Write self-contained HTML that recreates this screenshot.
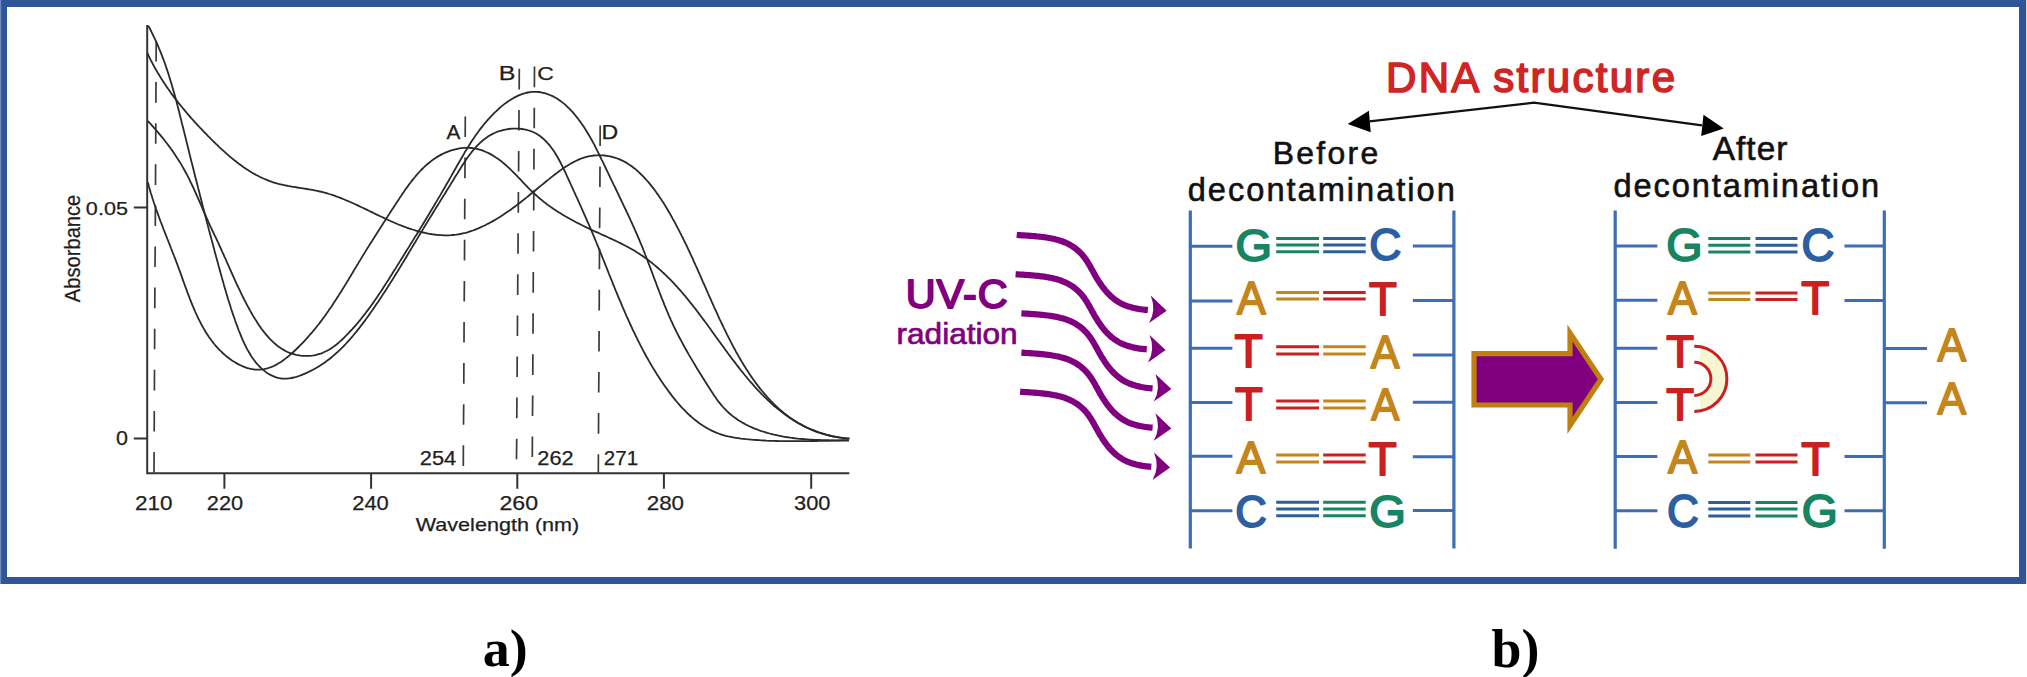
<!DOCTYPE html>
<html><head><meta charset="utf-8"><style>
html,body{margin:0;padding:0;background:#fff;width:2027px;height:677px;overflow:hidden}
svg{display:block}
</style></head><body>
<svg width="2027" height="677" viewBox="0 0 2027 677"><rect x="3.5" y="3.5" width="2019" height="577" fill="#fff" stroke="#2E5597" stroke-width="7"/>
<rect x="2026" y="0" width="1" height="584" fill="#d3dae6"/>
<rect x="0" y="0" width="1.2" height="584" fill="#6F8BBD"/>
<path d="M147.2,25 L147.2,473.3 L849.3,473.3" stroke="#333" stroke-width="2" fill="none"/>
<path d="M133.8,207.6H147 M133.8,438.4H147 M224.4,473H224.4V488.8 M371.1,473V488.8 M517.3,473V488.8 M663.9,473V488.8 M811.2,473V488.8" stroke="#333" stroke-width="2" fill="none"/>
<path d="M156.2,41.0L156.1,61.6M156.0,82.1L155.9,102.7M155.8,123.2L155.7,143.8M155.6,164.3L155.5,184.9M155.4,205.4L155.3,226.0M155.2,246.5L155.0,267.1M154.9,287.6L154.8,308.2M154.7,328.7L154.6,349.3M154.5,369.8L154.4,390.4M154.3,410.9L154.2,431.5M154.1,452.0L154.0,472.6" stroke="#3a3a3a" stroke-width="1.7" fill="none"/>
<path d="M465.3,116.5L465.2,137.1M465.1,157.6L464.9,178.2M464.8,198.7L464.7,219.3M464.6,239.8L464.5,260.4M464.4,280.9L464.2,301.5M464.1,322.0L464.0,342.6M463.9,363.1L463.8,383.7M463.7,404.2L463.5,424.8M463.4,445.3L463.3,465.9" stroke="#3a3a3a" stroke-width="1.7" fill="none"/>
<path d="M519.3,68.8L519.2,89.4M519.0,109.9L518.9,130.5M518.7,151.0L518.6,171.6M518.4,192.1L518.3,212.7M518.1,233.2L518.0,253.8M517.8,274.3L517.7,294.9M517.5,315.4L517.4,336.0M517.2,356.5L517.1,377.1M516.9,397.6L516.8,418.2M516.7,438.7L516.5,459.3" stroke="#3a3a3a" stroke-width="1.7" fill="none"/>
<path d="M534.5,66.6L534.4,87.2M534.3,107.7L534.2,128.3M534.0,148.8L533.9,169.4M533.8,189.9L533.7,210.5M533.6,231.0L533.5,251.6M533.3,272.1L533.2,292.7M533.1,313.2L533.0,333.8M532.9,354.3L532.8,374.9M532.7,395.4L532.5,416.0M532.4,436.5L532.3,457.1" stroke="#3a3a3a" stroke-width="1.7" fill="none"/>
<path d="M600.2,125.4L600.1,146.0M600.0,166.5L599.9,187.1M599.8,207.6L599.6,228.2M599.5,248.7L599.4,269.3M599.3,289.8L599.2,310.4M599.1,330.9L599.0,351.5M598.9,372.0L598.7,392.6M598.6,413.1L598.5,433.7M598.4,454.2L598.3,473.8" stroke="#3a3a3a" stroke-width="1.7" fill="none"/>
<path d="M147.8,182.3 L148.4,184.4 L148.9,186.5 L149.5,188.6 L150.1,190.6 L150.7,192.7 L151.4,194.7 L152.0,196.7 L152.6,198.7 L153.3,200.7 L153.9,202.7 L154.6,204.7 L155.3,206.6 L155.9,208.6 L156.6,210.5 L157.3,212.4 L158.0,214.4 L158.7,216.3 L159.4,218.2 L160.1,220.1 L160.8,222.0 L161.6,223.9 L162.3,225.8 L163.0,227.7 L163.7,229.6 L164.5,231.5 L165.2,233.4 L165.9,235.2 L166.7,237.1 L167.4,239.0 L168.2,240.9 L168.9,242.8 L169.7,244.7 L170.4,246.6 L171.1,248.5 L171.9,250.4 L172.6,252.3 L173.4,254.2 L174.1,256.1 L174.9,258.0 L175.6,259.9 L176.3,261.9 L177.1,263.8 L177.8,265.8 L178.5,267.7 L179.2,269.7 L180.0,271.7 L180.7,273.6 L181.4,275.6 L182.1,277.6 L182.8,279.6 L183.5,281.6 L184.3,283.7 L185.0,285.7 L185.7,287.7 L186.5,289.7 L187.2,291.7 L187.9,293.7 L188.7,295.7 L189.5,297.7 L190.2,299.7 L191.0,301.7 L191.8,303.7 L192.6,305.7 L193.5,307.6 L194.3,309.6 L195.1,311.5 L196.0,313.5 L196.9,315.4 L197.8,317.3 L198.7,319.2 L199.7,321.1 L200.6,322.9 L201.6,324.8 L202.6,326.6 L203.6,328.4 L204.7,330.2 L205.7,332.0 L206.8,333.7 L208.0,335.5 L209.1,337.2 L210.3,338.8 L211.5,340.5 L212.8,342.1 L214.0,343.7 L215.3,345.3 L216.7,346.8 L218.0,348.3 L219.4,349.8 L220.9,351.2 L222.3,352.7 L223.8,354.0 L225.4,355.4 L227.0,356.7 L228.6,358.0 L230.3,359.2 L232.0,360.4 L233.7,361.5 L235.5,362.6 L237.3,363.6 L239.1,364.6 L241.0,365.5 L242.9,366.4 L244.8,367.1 L246.7,367.8 L248.6,368.4 L250.6,368.8 L252.5,369.2 L254.5,369.5 L256.5,369.7 L258.4,369.7 L260.4,369.6 L262.3,369.4 L264.2,369.1 L266.2,368.7 L268.1,368.2 L269.9,367.5 L271.8,366.8 L273.7,366.0 L275.5,365.1 L277.3,364.1 L279.1,363.0 L280.9,361.9 L282.6,360.7 L284.4,359.4 L286.1,358.1 L287.8,356.8 L289.5,355.4 L291.1,353.9 L292.8,352.5 L294.4,351.0 L296.0,349.5 L297.5,348.0 L299.1,346.5 L300.6,344.9 L302.1,343.4 L303.6,341.8 L305.0,340.3 L306.5,338.7 L307.9,337.1 L309.3,335.5 L310.7,333.9 L312.1,332.3 L313.4,330.7 L314.8,329.1 L316.1,327.5 L317.4,325.8 L318.7,324.2 L319.9,322.6 L321.2,320.9 L322.4,319.2 L323.7,317.6 L324.9,315.9 L326.1,314.2 L327.3,312.5 L328.5,310.8 L329.6,309.1 L330.8,307.4 L332.0,305.7 L333.1,304.0 L334.2,302.3 L335.4,300.6 L336.5,298.8 L337.6,297.1 L338.7,295.4 L339.8,293.6 L340.9,291.9 L342.0,290.2 L343.0,288.4 L344.1,286.7 L345.2,284.9 L346.2,283.2 L347.3,281.4 L348.4,279.7 L349.4,277.9 L350.5,276.2 L351.5,274.4 L352.6,272.7 L353.6,270.9 L354.7,269.1 L355.8,267.4 L356.8,265.6 L357.9,263.9 L358.9,262.1 L360.0,260.4 L361.1,258.6 L362.1,256.9 L363.2,255.1 L364.3,253.4 L365.4,251.6 L366.4,249.9 L367.5,248.1 L368.6,246.4 L369.7,244.6 L370.8,242.9 L371.9,241.2 L373.0,239.4 L374.1,237.7 L375.2,235.9 L376.3,234.2 L377.4,232.4 L378.5,230.7 L379.6,228.9 L380.8,227.2 L381.9,225.4 L383.0,223.7 L384.1,221.9 L385.3,220.2 L386.4,218.4 L387.5,216.6 L388.7,214.9 L389.8,213.1 L391.0,211.3 L392.1,209.6 L393.3,207.8 L394.4,206.0 L395.6,204.3 L396.7,202.5 L397.9,200.7 L399.1,198.9 L400.2,197.1 L401.4,195.4 L402.6,193.6 L403.8,191.9 L405.0,190.1 L406.2,188.4 L407.5,186.6 L408.7,184.9 L410.0,183.2 L411.3,181.6 L412.6,179.9 L413.9,178.3 L415.2,176.7 L416.5,175.1 L417.9,173.5 L419.3,172.0 L420.7,170.5 L422.2,169.0 L423.6,167.6 L425.1,166.2 L426.6,164.8 L428.2,163.5 L429.8,162.2 L431.4,160.9 L433.0,159.7 L434.7,158.6 L436.4,157.4 L438.1,156.4 L439.9,155.4 L441.7,154.4 L443.5,153.5 L445.4,152.6 L447.3,151.8 L449.3,151.1 L451.3,150.4 L453.3,149.8 L455.3,149.3 L457.4,148.8 L459.4,148.4 L461.5,148.1 L463.5,147.9 L465.6,147.8 L467.6,147.8 L469.7,147.8 L471.7,148.0 L473.7,148.3 L475.7,148.6 L477.7,149.1 L479.6,149.6 L481.5,150.2 L483.5,150.9 L485.3,151.7 L487.2,152.5 L489.1,153.4 L490.9,154.4 L492.7,155.4 L494.5,156.5 L496.2,157.7 L497.9,158.8 L499.6,160.1 L501.3,161.3 L502.9,162.6 L504.5,164.0 L506.1,165.4 L507.7,166.8 L509.2,168.2 L510.7,169.7 L512.2,171.1 L513.7,172.6 L515.2,174.1 L516.7,175.6 L518.1,177.2 L519.6,178.7 L521.1,180.2 L522.5,181.8 L524.0,183.3 L525.4,184.8 L526.9,186.3 L528.3,187.8 L529.8,189.3 L531.3,190.8 L532.8,192.2 L534.3,193.7 L535.8,195.0 L537.4,196.4 L538.9,197.8 L540.5,199.1 L542.1,200.4 L543.7,201.7 L545.3,202.9 L546.9,204.2 L548.6,205.4 L550.2,206.6 L551.9,207.7 L553.6,208.9 L555.3,210.0 L557.0,211.2 L558.7,212.3 L560.5,213.3 L562.2,214.4 L564.0,215.5 L565.7,216.5 L567.5,217.5 L569.3,218.5 L571.1,219.5 L572.9,220.5 L574.7,221.5 L576.5,222.5 L578.4,223.4 L580.2,224.3 L582.1,225.3 L584.0,226.2 L585.8,227.1 L587.7,228.0 L589.6,228.9 L591.5,229.8 L593.4,230.7 L595.3,231.6 L597.3,232.4 L599.2,233.3 L601.1,234.2 L603.1,235.1 L605.0,235.9 L606.9,236.8 L608.8,237.7 L610.8,238.6 L612.7,239.5 L614.6,240.4 L616.5,241.3 L618.4,242.2 L620.3,243.1 L622.2,244.1 L624.1,245.0 L625.9,246.0 L627.8,247.0 L629.6,248.0 L631.4,249.0 L633.2,250.0 L635.0,251.1 L636.7,252.2 L638.5,253.3 L640.2,254.4 L641.9,255.5 L643.6,256.7 L645.3,257.9 L646.9,259.1 L648.5,260.3 L650.2,261.6 L651.8,262.8 L653.3,264.1 L654.9,265.4 L656.5,266.7 L658.0,268.0 L659.5,269.4 L661.1,270.7 L662.5,272.1 L664.0,273.5 L665.5,274.9 L667.0,276.3 L668.4,277.8 L669.9,279.2 L671.3,280.7 L672.7,282.1 L674.1,283.6 L675.5,285.1 L676.9,286.6 L678.2,288.2 L679.6,289.7 L681.0,291.2 L682.3,292.8 L683.6,294.4 L685.0,295.9 L686.3,297.5 L687.6,299.1 L688.9,300.7 L690.2,302.4 L691.5,304.0 L692.8,305.6 L694.1,307.2 L695.4,308.9 L696.6,310.5 L697.9,312.2 L699.2,313.9 L700.4,315.5 L701.7,317.2 L702.9,318.9 L704.2,320.6 L705.4,322.3 L706.7,323.9 L707.9,325.6 L709.1,327.3 L710.4,329.0 L711.6,330.7 L712.8,332.5 L714.1,334.2 L715.3,335.9 L716.5,337.6 L717.8,339.3 L719.0,341.0 L720.3,342.7 L721.5,344.4 L722.7,346.1 L724.0,347.8 L725.2,349.6 L726.5,351.3 L727.7,353.0 L729.0,354.7 L730.3,356.4 L731.5,358.1 L732.8,359.7 L734.1,361.4 L735.4,363.1 L736.6,364.8 L737.9,366.4 L739.2,368.1 L740.5,369.8 L741.8,371.4 L743.2,373.0 L744.5,374.7 L745.8,376.3 L747.1,377.9 L748.5,379.5 L749.8,381.1 L751.2,382.7 L752.6,384.2 L754.0,385.8 L755.3,387.3 L756.7,388.8 L758.1,390.4 L759.6,391.9 L761.0,393.3 L762.4,394.8 L763.9,396.3 L765.3,397.7 L766.8,399.1 L768.3,400.5 L769.8,401.9 L771.3,403.3 L772.8,404.7 L774.3,406.0 L775.9,407.3 L777.4,408.6 L779.0,409.9 L780.6,411.1 L782.2,412.4 L783.8,413.6 L785.4,414.8 L787.1,415.9 L788.8,417.1 L790.4,418.2 L792.1,419.3 L793.8,420.4 L795.6,421.4 L797.3,422.5 L799.0,423.5 L800.8,424.4 L802.6,425.4 L804.4,426.3 L806.3,427.2 L808.1,428.0 L810.0,428.9 L811.8,429.7 L813.8,430.4 L815.7,431.2 L817.6,431.9 L819.6,432.6 L821.6,433.2 L823.6,433.8 L825.6,434.4 L827.6,435.0 L829.7,435.5 L831.8,436.0 L833.9,436.4 L836.0,436.8 L838.2,437.2 L840.4,437.6 L842.6,437.9 L844.8,438.1 L847.0,438.4 L849.3,438.6" stroke="#2a2a2a" stroke-width="1.8" fill="none" stroke-linejoin="round"/>
<path d="M148.2,25.6 L149.4,27.8 L150.6,30.0 L151.7,32.3 L152.8,34.6 L153.9,36.8 L155.0,39.1 L156.0,41.4 L157.1,43.7 L158.1,46.0 L159.0,48.3 L160.0,50.6 L160.9,52.9 L161.8,55.3 L162.7,57.6 L163.6,59.9 L164.5,62.3 L165.3,64.6 L166.1,67.0 L166.9,69.4 L167.7,71.7 L168.5,74.1 L169.2,76.5 L170.0,78.9 L170.7,81.2 L171.4,83.6 L172.1,86.0 L172.8,88.4 L173.5,90.8 L174.2,93.3 L174.9,95.7 L175.5,98.1 L176.2,100.5 L176.8,102.9 L177.4,105.3 L178.1,107.8 L178.7,110.2 L179.3,112.6 L179.9,115.1 L180.5,117.5 L181.1,119.9 L181.7,122.4 L182.3,124.8 L183.0,127.3 L183.6,129.7 L184.2,132.1 L184.8,134.6 L185.4,137.0 L186.0,139.5 L186.6,141.9 L187.2,144.4 L187.8,146.8 L188.4,149.3 L189.0,151.7 L189.6,154.1 L190.2,156.6 L190.8,159.0 L191.4,161.5 L192.1,163.9 L192.7,166.4 L193.3,168.8 L193.9,171.3 L194.5,173.7 L195.1,176.2 L195.7,178.6 L196.4,181.0 L197.0,183.5 L197.6,185.9 L198.2,188.4 L198.9,190.8 L199.5,193.3 L200.1,195.7 L200.7,198.1 L201.4,200.6 L202.0,203.0 L202.6,205.4 L203.2,207.9 L203.9,210.3 L204.5,212.7 L205.1,215.2 L205.8,217.6 L206.4,220.0 L207.0,222.5 L207.7,224.9 L208.3,227.3 L208.9,229.7 L209.6,232.2 L210.2,234.6 L210.9,237.0 L211.5,239.4 L212.2,241.8 L212.8,244.2 L213.4,246.6 L214.1,249.1 L214.7,251.5 L215.4,253.9 L216.0,256.3 L216.7,258.7 L217.3,261.1 L218.0,263.5 L218.6,265.9 L219.3,268.2 L219.9,270.6 L220.6,273.0 L221.3,275.4 L221.9,277.8 L222.6,280.2 L223.3,282.5 L223.9,284.9 L224.6,287.3 L225.3,289.7 L226.0,292.0 L226.7,294.4 L227.4,296.8 L228.1,299.2 L228.9,301.6 L229.6,303.9 L230.4,306.3 L231.1,308.7 L231.9,311.1 L232.7,313.5 L233.5,315.9 L234.4,318.3 L235.2,320.7 L236.1,323.2 L237.0,325.6 L237.9,328.0 L238.8,330.5 L239.8,332.9 L240.8,335.3 L241.8,337.8 L242.8,340.2 L243.9,342.6 L245.0,344.9 L246.2,347.3 L247.4,349.6 L248.7,351.8 L250.0,354.0 L251.3,356.2 L252.7,358.3 L254.2,360.3 L255.7,362.3 L257.3,364.2 L259.0,366.0 L260.7,367.7 L262.5,369.4 L264.4,370.9 L266.3,372.4 L268.3,373.7 L270.4,374.9 L272.6,375.9 L274.8,376.8 L277.0,377.6 L279.3,378.1 L281.7,378.5 L284.1,378.7 L286.5,378.7 L289.0,378.4 L291.4,378.0 L293.9,377.5 L296.4,376.8 L298.9,376.0 L301.3,375.1 L303.7,374.1 L306.1,373.1 L308.4,372.0 L310.7,370.9 L313.0,369.7 L315.2,368.5 L317.4,367.3 L319.5,365.9 L321.6,364.6 L323.7,363.2 L325.7,361.7 L327.7,360.3 L329.7,358.7 L331.6,357.2 L333.5,355.6 L335.4,353.9 L337.3,352.3 L339.1,350.6 L340.9,348.8 L342.7,347.1 L344.4,345.3 L346.1,343.5 L347.8,341.6 L349.5,339.8 L351.2,337.9 L352.8,336.0 L354.4,334.0 L356.0,332.1 L357.6,330.1 L359.2,328.1 L360.7,326.1 L362.3,324.1 L363.8,322.1 L365.3,320.1 L366.8,318.0 L368.3,316.0 L369.7,313.9 L371.2,311.8 L372.7,309.8 L374.1,307.7 L375.5,305.6 L376.9,303.5 L378.4,301.4 L379.8,299.3 L381.2,297.2 L382.5,295.1 L383.9,293.0 L385.3,290.9 L386.7,288.7 L388.0,286.6 L389.4,284.5 L390.7,282.4 L392.1,280.2 L393.4,278.1 L394.7,276.0 L396.0,273.8 L397.4,271.7 L398.7,269.5 L400.0,267.4 L401.3,265.3 L402.6,263.1 L403.9,261.0 L405.2,258.8 L406.5,256.7 L407.8,254.5 L409.0,252.4 L410.3,250.2 L411.6,248.1 L412.9,246.0 L414.2,243.8 L415.5,241.7 L416.7,239.6 L418.0,237.4 L419.3,235.3 L420.6,233.2 L421.9,231.0 L423.2,228.9 L424.4,226.8 L425.7,224.7 L427.0,222.6 L428.3,220.5 L429.6,218.4 L430.9,216.3 L432.2,214.2 L433.5,212.0 L434.8,209.9 L436.1,207.8 L437.4,205.7 L438.7,203.6 L440.0,201.5 L441.3,199.4 L442.6,197.2 L444.0,195.1 L445.3,193.0 L446.6,190.8 L447.9,188.7 L449.3,186.5 L450.6,184.4 L451.9,182.2 L453.3,180.0 L454.6,177.8 L456.0,175.6 L457.4,173.4 L458.7,171.2 L460.1,169.0 L461.5,166.8 L462.9,164.6 L464.3,162.4 L465.7,160.3 L467.2,158.1 L468.7,156.0 L470.2,154.0 L471.8,151.9 L473.4,150.0 L475.1,148.0 L476.7,146.2 L478.5,144.4 L480.3,142.7 L482.1,141.0 L484.0,139.4 L486.0,138.0 L488.0,136.6 L490.1,135.3 L492.2,134.1 L494.5,133.0 L496.8,132.0 L499.2,131.2 L501.6,130.5 L504.1,129.9 L506.6,129.4 L509.1,129.0 L511.7,128.7 L514.2,128.6 L516.7,128.6 L519.3,128.7 L521.8,129.0 L524.2,129.4 L526.6,129.9 L529.0,130.5 L531.3,131.3 L533.5,132.3 L535.6,133.3 L537.6,134.5 L539.6,135.8 L541.5,137.2 L543.3,138.7 L545.0,140.3 L546.7,142.0 L548.3,143.8 L549.9,145.7 L551.4,147.7 L552.9,149.7 L554.3,151.8 L555.7,154.0 L557.0,156.2 L558.3,158.5 L559.5,160.7 L560.8,163.1 L561.9,165.4 L563.1,167.8 L564.3,170.2 L565.4,172.6 L566.5,175.0 L567.6,177.4 L568.7,179.8 L569.8,182.2 L570.8,184.5 L571.9,186.9 L573.0,189.2 L574.0,191.5 L575.1,193.9 L576.1,196.2 L577.2,198.4 L578.2,200.7 L579.3,203.0 L580.3,205.3 L581.3,207.5 L582.3,209.8 L583.3,212.1 L584.3,214.3 L585.3,216.6 L586.3,218.8 L587.3,221.1 L588.3,223.3 L589.3,225.6 L590.2,227.8 L591.2,230.1 L592.2,232.4 L593.1,234.7 L594.1,236.9 L595.0,239.2 L596.0,241.5 L596.9,243.8 L597.9,246.1 L598.8,248.4 L599.7,250.7 L600.7,253.0 L601.6,255.4 L602.5,257.7 L603.5,260.0 L604.4,262.3 L605.3,264.6 L606.3,267.0 L607.2,269.3 L608.1,271.6 L609.0,274.0 L610.0,276.3 L610.9,278.6 L611.9,281.0 L612.8,283.3 L613.7,285.6 L614.7,288.0 L615.6,290.3 L616.6,292.6 L617.5,294.9 L618.5,297.3 L619.5,299.6 L620.5,301.9 L621.4,304.2 L622.4,306.6 L623.4,308.9 L624.4,311.2 L625.4,313.5 L626.4,315.8 L627.5,318.1 L628.5,320.4 L629.5,322.7 L630.6,325.0 L631.7,327.3 L632.7,329.6 L633.8,331.9 L634.9,334.1 L636.0,336.4 L637.1,338.7 L638.2,340.9 L639.4,343.2 L640.5,345.4 L641.7,347.6 L642.8,349.9 L644.0,352.1 L645.2,354.3 L646.4,356.5 L647.7,358.7 L648.9,360.9 L650.2,363.1 L651.4,365.3 L652.7,367.4 L654.0,369.6 L655.4,371.7 L656.7,373.9 L658.1,376.0 L659.4,378.1 L660.8,380.2 L662.2,382.3 L663.7,384.4 L665.1,386.4 L666.6,388.5 L668.1,390.6 L669.6,392.6 L671.1,394.6 L672.6,396.6 L674.2,398.6 L675.8,400.6 L677.4,402.5 L679.1,404.4 L680.7,406.3 L682.4,408.1 L684.2,409.9 L685.9,411.7 L687.7,413.5 L689.5,415.2 L691.4,416.8 L693.2,418.4 L695.1,420.0 L697.1,421.5 L699.0,423.0 L701.1,424.4 L703.1,425.8 L705.2,427.1 L707.3,428.3 L709.5,429.5 L711.7,430.6 L713.9,431.6 L716.2,432.6 L718.5,433.5 L720.8,434.3 L723.2,435.1 L725.7,435.8 L728.2,436.4 L730.7,436.9 L733.2,437.4 L735.8,437.8 L738.4,438.2 L740.9,438.6 L743.5,438.9 L746.1,439.2 L748.7,439.4 L751.3,439.6 L753.8,439.9 L756.4,440.0 L758.9,440.2 L761.4,440.4 L764.0,440.5 L766.5,440.7 L769.0,440.8 L771.5,440.9 L774.0,440.9 L776.5,441.0 L779.0,441.1 L781.5,441.1 L784.0,441.2 L786.4,441.2 L788.9,441.2 L791.4,441.2 L793.9,441.2 L796.3,441.2 L798.8,441.2 L801.3,441.2 L803.8,441.1 L806.2,441.1 L808.7,441.1 L811.2,441.0 L813.7,441.0 L816.2,441.0 L818.6,440.9 L821.1,440.9 L823.6,440.8 L826.1,440.8 L828.6,440.8 L831.1,440.7 L833.7,440.7 L836.2,440.7 L838.7,440.6 L841.3,440.6 L843.8,440.6 L846.4,440.6 L848.9,440.6" stroke="#2a2a2a" stroke-width="1.8" fill="none" stroke-linejoin="round"/>
<path d="M147.9,121.0 L149.4,122.7 L151.0,124.3 L152.5,126.1 L154.1,127.8 L155.6,129.5 L157.1,131.3 L158.6,133.1 L160.1,134.9 L161.6,136.7 L163.1,138.5 L164.5,140.3 L166.0,142.2 L167.4,144.0 L168.8,145.9 L170.2,147.8 L171.6,149.7 L172.9,151.6 L174.2,153.6 L175.5,155.5 L176.8,157.5 L178.1,159.4 L179.4,161.4 L180.6,163.4 L181.8,165.4 L182.9,167.4 L184.1,169.5 L185.2,171.5 L186.3,173.5 L187.4,175.6 L188.5,177.6 L189.5,179.7 L190.5,181.8 L191.5,183.9 L192.5,186.0 L193.5,188.0 L194.4,190.1 L195.4,192.3 L196.3,194.4 L197.3,196.5 L198.2,198.6 L199.1,200.7 L200.1,202.9 L201.0,205.0 L201.9,207.2 L202.8,209.3 L203.8,211.4 L204.7,213.6 L205.7,215.7 L206.6,217.9 L207.6,220.0 L208.5,222.2 L209.5,224.3 L210.5,226.5 L211.5,228.6 L212.5,230.8 L213.5,232.9 L214.5,235.1 L215.6,237.2 L216.6,239.3 L217.6,241.5 L218.6,243.6 L219.5,245.7 L220.5,247.9 L221.5,250.0 L222.4,252.1 L223.4,254.2 L224.3,256.3 L225.3,258.4 L226.2,260.5 L227.1,262.6 L228.0,264.7 L229.0,266.7 L229.9,268.8 L230.8,270.9 L231.7,273.0 L232.7,275.1 L233.6,277.2 L234.5,279.2 L235.5,281.3 L236.4,283.4 L237.4,285.5 L238.4,287.6 L239.4,289.6 L240.4,291.7 L241.4,293.8 L242.4,295.9 L243.4,298.0 L244.5,300.1 L245.6,302.2 L246.7,304.3 L247.8,306.4 L249.0,308.5 L250.1,310.6 L251.3,312.7 L252.5,314.9 L253.8,317.0 L255.1,319.1 L256.4,321.1 L257.7,323.2 L259.0,325.2 L260.4,327.2 L261.8,329.2 L263.3,331.1 L264.8,333.0 L266.3,334.9 L267.9,336.7 L269.4,338.4 L271.1,340.1 L272.7,341.7 L274.4,343.3 L276.2,344.8 L278.0,346.2 L279.8,347.5 L281.7,348.8 L283.6,349.9 L285.5,351.0 L287.5,352.0 L289.6,352.8 L291.7,353.6 L293.8,354.2 L296.0,354.8 L298.2,355.2 L300.4,355.6 L302.7,355.8 L304.9,355.9 L307.2,355.9 L309.5,355.8 L311.8,355.6 L314.0,355.3 L316.3,354.8 L318.5,354.2 L320.7,353.6 L322.8,352.8 L324.9,351.8 L327.0,350.8 L329.0,349.7 L331.0,348.4 L333.0,347.1 L334.9,345.7 L336.8,344.2 L338.6,342.7 L340.4,341.1 L342.2,339.5 L343.9,337.8 L345.6,336.1 L347.3,334.4 L349.0,332.6 L350.6,330.9 L352.3,329.1 L353.8,327.4 L355.4,325.6 L357.0,323.8 L358.5,322.0 L360.0,320.2 L361.5,318.3 L362.9,316.5 L364.4,314.6 L365.8,312.8 L367.2,310.9 L368.6,309.1 L370.0,307.2 L371.4,305.3 L372.7,303.4 L374.1,301.5 L375.4,299.6 L376.7,297.7 L378.0,295.7 L379.3,293.8 L380.6,291.9 L381.9,289.9 L383.1,288.0 L384.4,286.0 L385.7,284.1 L386.9,282.1 L388.2,280.2 L389.4,278.2 L390.6,276.2 L391.9,274.3 L393.1,272.3 L394.3,270.3 L395.6,268.4 L396.8,266.4 L398.0,264.4 L399.3,262.4 L400.5,260.4 L401.7,258.5 L403.0,256.5 L404.2,254.5 L405.4,252.5 L406.6,250.5 L407.9,248.6 L409.1,246.6 L410.3,244.6 L411.6,242.6 L412.8,240.6 L414.0,238.6 L415.2,236.6 L416.5,234.7 L417.7,232.7 L418.9,230.7 L420.1,228.7 L421.3,226.7 L422.6,224.7 L423.8,222.7 L425.0,220.7 L426.2,218.7 L427.4,216.7 L428.6,214.7 L429.8,212.7 L431.0,210.7 L432.2,208.7 L433.4,206.7 L434.6,204.7 L435.8,202.6 L437.0,200.6 L438.2,198.6 L439.4,196.6 L440.6,194.6 L441.7,192.6 L442.9,190.6 L444.1,188.5 L445.3,186.5 L446.4,184.5 L447.6,182.5 L448.8,180.5 L449.9,178.4 L451.1,176.4 L452.2,174.4 L453.4,172.3 L454.5,170.3 L455.7,168.3 L456.8,166.3 L457.9,164.2 L459.1,162.2 L460.3,160.2 L461.4,158.2 L462.6,156.2 L463.8,154.1 L464.9,152.1 L466.1,150.2 L467.3,148.2 L468.6,146.2 L469.8,144.2 L471.0,142.3 L472.3,140.3 L473.6,138.4 L474.9,136.5 L476.2,134.5 L477.6,132.7 L479.0,130.8 L480.4,128.9 L481.8,127.1 L483.3,125.2 L484.7,123.4 L486.3,121.6 L487.8,119.8 L489.4,118.1 L491.0,116.3 L492.7,114.6 L494.3,112.9 L496.1,111.3 L497.8,109.6 L499.6,108.0 L501.5,106.4 L503.3,104.9 L505.2,103.4 L507.2,102.0 L509.1,100.7 L511.1,99.4 L513.1,98.2 L515.2,97.1 L517.2,96.1 L519.3,95.2 L521.4,94.3 L523.5,93.6 L525.7,93.0 L527.8,92.5 L530.0,92.1 L532.2,91.9 L534.4,91.8 L536.6,91.8 L538.8,92.0 L541.0,92.4 L543.2,92.8 L545.5,93.4 L547.6,94.1 L549.8,95.0 L552.0,95.9 L554.1,96.9 L556.1,98.1 L558.1,99.3 L560.1,100.7 L562.0,102.1 L563.9,103.6 L565.7,105.1 L567.4,106.8 L569.1,108.4 L570.8,110.2 L572.4,111.9 L573.9,113.7 L575.4,115.5 L576.9,117.3 L578.4,119.2 L579.8,121.1 L581.1,123.0 L582.5,124.9 L583.8,126.8 L585.0,128.8 L586.3,130.7 L587.5,132.7 L588.7,134.7 L589.9,136.7 L591.0,138.8 L592.2,140.8 L593.3,142.9 L594.4,144.9 L595.4,147.0 L596.5,149.1 L597.5,151.2 L598.6,153.3 L599.6,155.4 L600.6,157.5 L601.6,159.6 L602.7,161.7 L603.7,163.8 L604.7,165.9 L605.7,168.0 L606.7,170.1 L607.7,172.2 L608.7,174.3 L609.7,176.4 L610.7,178.6 L611.7,180.7 L612.7,182.7 L613.7,184.8 L614.8,186.9 L615.8,189.0 L616.8,191.1 L617.8,193.2 L618.8,195.3 L619.8,197.4 L620.8,199.5 L621.8,201.6 L622.8,203.7 L623.8,205.8 L624.8,207.9 L625.8,210.0 L626.8,212.1 L627.8,214.2 L628.8,216.3 L629.8,218.4 L630.7,220.5 L631.7,222.7 L632.7,224.8 L633.6,226.9 L634.6,229.0 L635.5,231.1 L636.5,233.3 L637.4,235.4 L638.3,237.6 L639.2,239.7 L640.1,241.8 L641.0,244.0 L641.9,246.2 L642.8,248.3 L643.6,250.5 L644.5,252.7 L645.3,254.8 L646.2,257.0 L647.0,259.2 L647.9,261.4 L648.7,263.6 L649.5,265.7 L650.3,267.9 L651.2,270.1 L652.0,272.3 L652.8,274.5 L653.6,276.7 L654.4,278.9 L655.3,281.1 L656.1,283.3 L656.9,285.5 L657.7,287.7 L658.6,289.8 L659.4,292.0 L660.2,294.2 L661.1,296.4 L661.9,298.6 L662.8,300.7 L663.7,302.9 L664.5,305.1 L665.4,307.2 L666.3,309.4 L667.2,311.5 L668.1,313.7 L669.0,315.8 L670.0,317.9 L670.9,320.1 L671.9,322.2 L672.9,324.3 L673.8,326.4 L674.9,328.5 L675.9,330.6 L676.9,332.6 L678.0,334.7 L679.0,336.8 L680.1,338.8 L681.2,340.9 L682.3,342.9 L683.4,345.0 L684.5,347.0 L685.7,349.0 L686.8,351.0 L688.0,353.1 L689.1,355.1 L690.3,357.1 L691.5,359.1 L692.7,361.1 L693.9,363.1 L695.1,365.2 L696.3,367.2 L697.5,369.2 L698.8,371.2 L700.0,373.2 L701.3,375.2 L702.5,377.2 L703.8,379.2 L705.0,381.3 L706.3,383.3 L707.5,385.3 L708.8,387.3 L710.1,389.3 L711.4,391.3 L712.7,393.3 L714.0,395.3 L715.4,397.3 L716.7,399.2 L718.1,401.1 L719.6,402.9 L721.0,404.7 L722.5,406.5 L724.1,408.2 L725.7,409.8 L727.3,411.4 L729.0,413.0 L730.7,414.5 L732.4,415.9 L734.2,417.3 L736.1,418.6 L737.9,419.9 L739.8,421.1 L741.8,422.3 L743.8,423.4 L745.8,424.5 L747.8,425.5 L749.8,426.5 L751.9,427.4 L754.1,428.3 L756.2,429.2 L758.4,430.0 L760.5,430.8 L762.8,431.5 L765.0,432.2 L767.2,432.9 L769.5,433.5 L771.8,434.1 L774.1,434.7 L776.4,435.2 L778.7,435.7 L781.1,436.1 L783.4,436.6 L785.8,437.0 L788.2,437.3 L790.5,437.7 L792.9,438.0 L795.3,438.3 L797.7,438.6 L800.1,438.8 L802.5,439.0 L804.9,439.2 L807.3,439.4 L809.6,439.6 L812.0,439.7 L814.4,439.8 L816.8,439.9 L819.1,440.0 L821.5,440.1 L823.8,440.1 L826.2,440.2 L828.5,440.2 L830.8,440.3 L833.1,440.3 L835.4,440.3 L837.7,440.3 L839.9,440.3 L842.1,440.2 L844.3,440.2 L846.5,440.2 L848.7,440.2" stroke="#2a2a2a" stroke-width="1.8" fill="none" stroke-linejoin="round"/>
<path d="M147.2,52.8 L148.0,54.5 L148.8,56.2 L149.7,57.9 L150.5,59.6 L151.4,61.2 L152.2,62.9 L153.1,64.5 L154.0,66.2 L154.9,67.8 L155.8,69.5 L156.8,71.1 L157.7,72.7 L158.7,74.3 L159.7,75.9 L160.6,77.5 L161.6,79.1 L162.7,80.7 L163.7,82.3 L164.7,83.8 L165.8,85.4 L166.8,86.9 L167.9,88.5 L169.0,90.0 L170.0,91.5 L171.1,93.1 L172.2,94.6 L173.4,96.1 L174.5,97.6 L175.6,99.1 L176.8,100.6 L177.9,102.1 L179.1,103.6 L180.3,105.0 L181.5,106.5 L182.7,108.0 L183.9,109.4 L185.1,110.9 L186.3,112.3 L187.5,113.8 L188.7,115.2 L190.0,116.6 L191.2,118.1 L192.5,119.5 L193.8,120.9 L195.0,122.3 L196.3,123.7 L197.6,125.1 L198.9,126.5 L200.2,127.9 L201.5,129.2 L202.8,130.6 L204.1,132.0 L205.5,133.4 L206.8,134.7 L208.1,136.1 L209.5,137.4 L210.8,138.8 L212.2,140.1 L213.5,141.5 L214.9,142.8 L216.2,144.1 L217.6,145.4 L219.0,146.8 L220.4,148.1 L221.8,149.4 L223.2,150.6 L224.6,151.9 L226.0,153.2 L227.4,154.4 L228.8,155.7 L230.3,156.9 L231.7,158.1 L233.2,159.3 L234.6,160.5 L236.1,161.6 L237.6,162.8 L239.1,163.9 L240.6,165.0 L242.1,166.1 L243.6,167.2 L245.2,168.3 L246.7,169.3 L248.3,170.3 L249.8,171.3 L251.4,172.2 L253.0,173.2 L254.6,174.1 L256.2,175.0 L257.9,175.8 L259.5,176.7 L261.2,177.5 L262.9,178.3 L264.5,179.0 L266.2,179.7 L268.0,180.4 L269.7,181.1 L271.4,181.7 L273.2,182.3 L275.0,182.8 L276.8,183.4 L278.6,183.9 L280.4,184.3 L282.2,184.7 L284.1,185.2 L285.9,185.5 L287.8,185.9 L289.7,186.2 L291.6,186.6 L293.5,186.9 L295.4,187.2 L297.3,187.5 L299.2,187.8 L301.1,188.1 L303.0,188.4 L304.9,188.7 L306.8,189.0 L308.7,189.3 L310.6,189.6 L312.5,189.9 L314.4,190.3 L316.2,190.7 L318.1,191.1 L320.0,191.5 L321.8,191.9 L323.6,192.4 L325.5,192.9 L327.3,193.4 L329.1,194.0 L330.9,194.5 L332.7,195.1 L334.5,195.7 L336.2,196.4 L338.0,197.0 L339.7,197.7 L341.5,198.3 L343.2,199.0 L345.0,199.8 L346.7,200.5 L348.4,201.2 L350.2,202.0 L351.9,202.7 L353.6,203.5 L355.3,204.3 L357.0,205.1 L358.7,205.9 L360.4,206.7 L362.1,207.5 L363.8,208.3 L365.5,209.1 L367.2,209.9 L368.9,210.8 L370.6,211.6 L372.3,212.4 L374.0,213.2 L375.7,214.1 L377.4,214.9 L379.1,215.7 L380.8,216.5 L382.5,217.3 L384.2,218.1 L385.9,218.9 L387.6,219.7 L389.4,220.5 L391.1,221.3 L392.8,222.0 L394.6,222.8 L396.3,223.5 L398.0,224.3 L399.8,225.0 L401.6,225.7 L403.3,226.3 L405.1,227.0 L406.9,227.7 L408.7,228.3 L410.5,228.9 L412.3,229.5 L414.1,230.0 L415.9,230.6 L417.7,231.1 L419.5,231.6 L421.4,232.1 L423.2,232.5 L425.0,232.9 L426.9,233.3 L428.7,233.7 L430.6,234.0 L432.4,234.3 L434.3,234.5 L436.1,234.8 L438.0,234.9 L439.8,235.1 L441.7,235.2 L443.5,235.3 L445.4,235.3 L447.2,235.3 L449.1,235.3 L450.9,235.2 L452.8,235.0 L454.6,234.8 L456.5,234.6 L458.3,234.3 L460.2,234.0 L462.0,233.6 L463.8,233.2 L465.7,232.8 L467.5,232.3 L469.3,231.7 L471.1,231.1 L472.9,230.5 L474.7,229.8 L476.5,229.1 L478.2,228.4 L480.0,227.6 L481.8,226.8 L483.5,226.0 L485.2,225.2 L486.9,224.3 L488.7,223.4 L490.3,222.5 L492.0,221.6 L493.7,220.6 L495.3,219.7 L496.9,218.7 L498.6,217.7 L500.2,216.7 L501.7,215.7 L503.3,214.7 L504.9,213.6 L506.4,212.6 L508.0,211.5 L509.5,210.5 L511.0,209.4 L512.5,208.3 L514.0,207.2 L515.5,206.1 L517.0,204.9 L518.5,203.8 L520.0,202.7 L521.4,201.5 L522.9,200.4 L524.4,199.2 L525.8,198.1 L527.3,196.9 L528.7,195.7 L530.2,194.5 L531.7,193.3 L533.1,192.1 L534.6,191.0 L536.0,189.8 L537.5,188.5 L538.9,187.3 L540.4,186.1 L541.9,184.9 L543.4,183.7 L544.8,182.5 L546.3,181.3 L547.8,180.1 L549.3,178.9 L550.8,177.6 L552.4,176.4 L553.9,175.2 L555.4,174.0 L557.0,172.9 L558.5,171.7 L560.1,170.6 L561.7,169.4 L563.2,168.3 L564.8,167.3 L566.4,166.2 L568.1,165.2 L569.7,164.2 L571.3,163.3 L573.0,162.4 L574.6,161.5 L576.3,160.7 L578.0,159.9 L579.7,159.2 L581.4,158.5 L583.1,157.9 L584.8,157.4 L586.6,156.9 L588.4,156.4 L590.1,156.1 L591.9,155.8 L593.7,155.5 L595.5,155.4 L597.4,155.3 L599.2,155.2 L601.0,155.3 L602.8,155.4 L604.7,155.5 L606.5,155.8 L608.3,156.1 L610.1,156.4 L611.9,156.8 L613.7,157.3 L615.5,157.9 L617.3,158.5 L619.0,159.1 L620.7,159.9 L622.4,160.6 L624.1,161.5 L625.7,162.4 L627.3,163.3 L628.9,164.4 L630.5,165.4 L632.0,166.5 L633.5,167.7 L635.0,168.8 L636.5,170.1 L637.9,171.3 L639.3,172.6 L640.7,174.0 L642.1,175.3 L643.4,176.7 L644.7,178.1 L646.0,179.5 L647.3,181.0 L648.6,182.4 L649.8,183.9 L651.0,185.4 L652.2,186.9 L653.4,188.4 L654.6,190.0 L655.7,191.5 L656.8,193.1 L657.9,194.6 L659.0,196.2 L660.1,197.8 L661.2,199.4 L662.2,201.0 L663.3,202.6 L664.3,204.2 L665.3,205.9 L666.3,207.5 L667.3,209.2 L668.2,210.8 L669.2,212.5 L670.2,214.1 L671.1,215.8 L672.0,217.4 L672.9,219.1 L673.9,220.8 L674.8,222.4 L675.7,224.1 L676.6,225.8 L677.4,227.4 L678.3,229.1 L679.2,230.8 L680.0,232.4 L680.9,234.1 L681.7,235.8 L682.6,237.5 L683.4,239.2 L684.2,240.8 L685.0,242.5 L685.9,244.2 L686.7,245.9 L687.5,247.6 L688.3,249.3 L689.1,251.0 L689.9,252.7 L690.6,254.3 L691.4,256.0 L692.2,257.7 L693.0,259.4 L693.7,261.1 L694.5,262.8 L695.3,264.5 L696.0,266.2 L696.8,267.9 L697.6,269.6 L698.3,271.3 L699.1,273.0 L699.8,274.7 L700.6,276.4 L701.3,278.2 L702.1,279.9 L702.8,281.6 L703.6,283.3 L704.4,285.0 L705.1,286.7 L705.9,288.4 L706.6,290.1 L707.4,291.8 L708.1,293.5 L708.9,295.3 L709.6,297.0 L710.4,298.7 L711.2,300.4 L711.9,302.1 L712.7,303.8 L713.5,305.6 L714.2,307.3 L715.0,309.0 L715.8,310.7 L716.6,312.4 L717.4,314.1 L718.1,315.9 L718.9,317.6 L719.7,319.3 L720.6,321.0 L721.4,322.8 L722.2,324.5 L723.0,326.2 L723.8,327.9 L724.7,329.6 L725.5,331.4 L726.4,333.1 L727.2,334.8 L728.1,336.5 L728.9,338.2 L729.8,339.9 L730.7,341.7 L731.6,343.4 L732.5,345.1 L733.4,346.8 L734.3,348.5 L735.2,350.2 L736.1,351.9 L737.1,353.5 L738.0,355.2 L739.0,356.9 L739.9,358.6 L740.9,360.2 L741.9,361.9 L742.9,363.5 L743.9,365.2 L744.9,366.8 L745.9,368.4 L746.9,370.0 L748.0,371.6 L749.0,373.2 L750.1,374.8 L751.1,376.4 L752.2,377.9 L753.3,379.5 L754.4,381.0 L755.5,382.6 L756.7,384.1 L757.8,385.6 L759.0,387.1 L760.1,388.6 L761.3,390.0 L762.5,391.5 L763.7,392.9 L764.9,394.3 L766.1,395.7 L767.3,397.1 L768.6,398.5 L769.9,399.9 L771.1,401.2 L772.4,402.5 L773.7,403.8 L775.1,405.1 L776.4,406.4 L777.7,407.6 L779.1,408.9 L780.5,410.1 L781.9,411.3 L783.3,412.5 L784.7,413.6 L786.1,414.7 L787.6,415.8 L789.0,416.9 L790.5,418.0 L792.0,419.1 L793.5,420.1 L795.1,421.1 L796.6,422.1 L798.2,423.0 L799.8,423.9 L801.4,424.8 L803.0,425.7 L804.6,426.6 L806.3,427.4 L807.9,428.2 L809.6,429.0 L811.3,429.7 L813.0,430.4 L814.8,431.1 L816.5,431.8 L818.3,432.4 L820.1,433.0 L821.9,433.6 L823.8,434.2 L825.6,434.7 L827.5,435.2 L829.4,435.6 L831.3,436.1 L833.2,436.5 L835.2,436.8 L837.1,437.2 L839.1,437.5 L841.2,437.7 L843.2,438.0 L845.2,438.2 L847.3,438.3 L849.4,438.5" stroke="#2a2a2a" stroke-width="1.8" fill="none" stroke-linejoin="round"/>
<text x="85.88" y="214.80" font-family='"Liberation Sans", sans-serif' font-weight="normal" font-size="18.48" textLength="42.03" lengthAdjust="spacingAndGlyphs" fill="#1e1e1e" stroke="#1e1e1e" stroke-width="0.25">0.05</text>
<text x="116.08" y="444.60" font-family='"Liberation Sans", sans-serif' font-weight="normal" font-size="19.48" textLength="11.93" lengthAdjust="spacingAndGlyphs" fill="#1e1e1e" stroke="#1e1e1e" stroke-width="0.25">0</text>
<text x="135.08" y="509.60" font-family='"Liberation Sans", sans-serif' font-weight="normal" font-size="20.20" textLength="37.49" lengthAdjust="spacingAndGlyphs" fill="#1e1e1e" stroke="#1e1e1e" stroke-width="0.25">210</text>
<text x="206.81" y="509.60" font-family='"Liberation Sans", sans-serif' font-weight="normal" font-size="20.20" textLength="36.33" lengthAdjust="spacingAndGlyphs" fill="#1e1e1e" stroke="#1e1e1e" stroke-width="0.25">220</text>
<text x="352.20" y="509.60" font-family='"Liberation Sans", sans-serif' font-weight="normal" font-size="20.20" textLength="36.64" lengthAdjust="spacingAndGlyphs" fill="#1e1e1e" stroke="#1e1e1e" stroke-width="0.25">240</text>
<text x="499.44" y="509.60" font-family='"Liberation Sans", sans-serif' font-weight="normal" font-size="20.20" textLength="38.65" lengthAdjust="spacingAndGlyphs" fill="#1e1e1e" stroke="#1e1e1e" stroke-width="0.25">260</text>
<text x="646.68" y="509.60" font-family='"Liberation Sans", sans-serif' font-weight="normal" font-size="20.20" textLength="37.38" lengthAdjust="spacingAndGlyphs" fill="#1e1e1e" stroke="#1e1e1e" stroke-width="0.25">280</text>
<text x="794.07" y="509.60" font-family='"Liberation Sans", sans-serif' font-weight="normal" font-size="20.20" textLength="36.37" lengthAdjust="spacingAndGlyphs" fill="#1e1e1e" stroke="#1e1e1e" stroke-width="0.25">300</text>
<text x="419.81" y="464.50" font-family='"Liberation Sans", sans-serif' font-weight="normal" font-size="19.48" textLength="36.41" lengthAdjust="spacingAndGlyphs" fill="#1e1e1e" stroke="#1e1e1e" stroke-width="0.25">254</text>
<text x="537.31" y="464.50" font-family='"Liberation Sans", sans-serif' font-weight="normal" font-size="19.48" textLength="36.28" lengthAdjust="spacingAndGlyphs" fill="#1e1e1e" stroke="#1e1e1e" stroke-width="0.25">262</text>
<text x="603.87" y="464.50" font-family='"Liberation Sans", sans-serif' font-weight="normal" font-size="19.48" textLength="34.22" lengthAdjust="spacingAndGlyphs" fill="#1e1e1e" stroke="#1e1e1e" stroke-width="0.25">271</text>
<text x="415.71" y="530.80" font-family='"Liberation Sans", sans-serif' font-weight="normal" font-size="18.78" textLength="163.60" lengthAdjust="spacingAndGlyphs" fill="#1e1e1e" stroke="#1e1e1e" stroke-width="0.25">Wavelength (nm)</text>
<text x="446.46" y="138.70" font-family='"Liberation Sans", sans-serif' font-weight="normal" font-size="19.33" textLength="13.90" lengthAdjust="spacingAndGlyphs" fill="#1e1e1e" stroke="#1e1e1e" stroke-width="0.25">A</text>
<text x="498.85" y="79.90" font-family='"Liberation Sans", sans-serif' font-weight="normal" font-size="19.33" textLength="16.68" lengthAdjust="spacingAndGlyphs" fill="#1e1e1e" stroke="#1e1e1e" stroke-width="0.25">B</text>
<text x="537.36" y="79.90" font-family='"Liberation Sans", sans-serif' font-weight="normal" font-size="19.05" textLength="16.52" lengthAdjust="spacingAndGlyphs" fill="#1e1e1e" stroke="#1e1e1e" stroke-width="0.25">C</text>
<text x="601.60" y="138.70" font-family='"Liberation Sans", sans-serif' font-weight="normal" font-size="19.33" textLength="16.71" lengthAdjust="spacingAndGlyphs" fill="#1e1e1e" stroke="#1e1e1e" stroke-width="0.25">D</text>
<g transform="rotate(-90)"><text x="-302.14" y="80.00" font-family='"Liberation Sans", sans-serif' font-weight="normal" font-size="22.65" textLength="107.44" lengthAdjust="spacingAndGlyphs" fill="#1e1e1e" stroke="#1e1e1e" stroke-width="0.25">Absorbance</text></g>
<text x="1386.06" y="91.50" font-family='"Liberation Sans", sans-serif' font-weight="normal" font-size="42.01" letter-spacing="2.296" fill="#D02525" stroke="#D02525" stroke-width="1.6" stroke-linejoin="round">DNA structure</text>
<path d="M1369.5,121.3 L1534,102.7 L1702,125.4" stroke="#111" stroke-width="2.2" fill="none" stroke-linejoin="miter"/>
<path d="M1347.7,123.9 L1368.9,110.7 L1370.7,132.2Z M1723.8,128.4 L1703.5,114.8 L1701.2,136Z" fill="#000"/>
<text x="1272.68" y="164.30" font-family='"Liberation Sans", sans-serif' font-weight="normal" font-size="31.91" letter-spacing="2.325" fill="#111" stroke="#111" stroke-width="0.6">Before</text>
<text x="1187.73" y="201.30" font-family='"Liberation Sans", sans-serif' font-weight="normal" font-size="32.60" letter-spacing="2.004" fill="#111" stroke="#111" stroke-width="0.6">decontamination</text>
<text x="1712.63" y="160.40" font-family='"Liberation Sans", sans-serif' font-weight="normal" font-size="33.43" letter-spacing="1.069" fill="#111" stroke="#111" stroke-width="0.6">After</text>
<text x="1613.43" y="197.20" font-family='"Liberation Sans", sans-serif' font-weight="normal" font-size="32.60" letter-spacing="1.904" fill="#111" stroke="#111" stroke-width="0.6">decontamination</text>
<path d="M1190.3,210.6V548.6 M1453.9,210.6V548.6" stroke="#3D6DB3" stroke-width="3.2" fill="none"/>
<path d="M1190,246.3H1232.4M1190,301H1232.4M1190,348.3H1232.4M1190,402.5H1232.4M1190,456.2H1232.4M1190,510.8H1232.4M1412.8,246H1454M1412.8,300.4H1454M1412.8,355H1454M1412.8,402.3H1454M1412.8,456.7H1454M1412.8,510.5H1454" stroke="#3D6DB3" stroke-width="3" fill="none"/>
<text x="1235.45" y="260.70" font-family='"Liberation Sans", sans-serif' font-weight="normal" font-size="45.13" textLength="36.51" lengthAdjust="spacingAndGlyphs" fill="#178462" stroke="#178462" stroke-width="1.8" stroke-linejoin="round">G</text>
<text x="1236.91" y="314.40" font-family='"Liberation Sans", sans-serif' font-weight="normal" font-size="45.78" textLength="28.72" lengthAdjust="spacingAndGlyphs" fill="#C4861A" stroke="#C4861A" stroke-width="1.8" stroke-linejoin="round">A</text>
<text x="1234.58" y="367.10" font-family='"Liberation Sans", sans-serif' font-weight="normal" font-size="45.64" textLength="28.28" lengthAdjust="spacingAndGlyphs" fill="#CC1F1F" stroke="#CC1F1F" stroke-width="1.8" stroke-linejoin="round">T</text>
<text x="1234.90" y="420.30" font-family='"Liberation Sans", sans-serif' font-weight="normal" font-size="45.64" textLength="27.74" lengthAdjust="spacingAndGlyphs" fill="#CC1F1F" stroke="#CC1F1F" stroke-width="1.8" stroke-linejoin="round">T</text>
<text x="1236.41" y="472.90" font-family='"Liberation Sans", sans-serif' font-weight="normal" font-size="44.62" textLength="28.82" lengthAdjust="spacingAndGlyphs" fill="#C4861A" stroke="#C4861A" stroke-width="1.8" stroke-linejoin="round">A</text>
<text x="1235.22" y="526.50" font-family='"Liberation Sans", sans-serif' font-weight="normal" font-size="45.13" textLength="31.55" lengthAdjust="spacingAndGlyphs" fill="#2B5FA0" stroke="#2B5FA0" stroke-width="1.8" stroke-linejoin="round">C</text>
<text x="1369.28" y="260.00" font-family='"Liberation Sans", sans-serif' font-weight="normal" font-size="45.13" textLength="32.12" lengthAdjust="spacingAndGlyphs" fill="#2B5FA0" stroke="#2B5FA0" stroke-width="1.8" stroke-linejoin="round">C</text>
<text x="1368.90" y="315.00" font-family='"Liberation Sans", sans-serif' font-weight="normal" font-size="47.09" textLength="27.84" lengthAdjust="spacingAndGlyphs" fill="#CC1F1F" stroke="#CC1F1F" stroke-width="1.8" stroke-linejoin="round">T</text>
<text x="1370.81" y="367.50" font-family='"Liberation Sans", sans-serif' font-weight="normal" font-size="45.93" textLength="28.72" lengthAdjust="spacingAndGlyphs" fill="#C4861A" stroke="#C4861A" stroke-width="1.8" stroke-linejoin="round">A</text>
<text x="1371.22" y="419.80" font-family='"Liberation Sans", sans-serif' font-weight="normal" font-size="44.62" textLength="28.01" lengthAdjust="spacingAndGlyphs" fill="#C4861A" stroke="#C4861A" stroke-width="1.8" stroke-linejoin="round">A</text>
<text x="1368.49" y="474.80" font-family='"Liberation Sans", sans-serif' font-weight="normal" font-size="45.64" textLength="28.17" lengthAdjust="spacingAndGlyphs" fill="#CC1F1F" stroke="#CC1F1F" stroke-width="1.8" stroke-linejoin="round">T</text>
<text x="1369.15" y="526.50" font-family='"Liberation Sans", sans-serif' font-weight="normal" font-size="45.27" textLength="36.63" lengthAdjust="spacingAndGlyphs" fill="#178462" stroke="#178462" stroke-width="1.8" stroke-linejoin="round">G</text>
<path d="M1276.2,238.6H1319M1276.2,245.1H1319M1276.2,251.7H1319" stroke="#178462" stroke-width="3" fill="none"/>
<path d="M1323.2,238.6H1365.7M1323.2,245.1H1365.7M1323.2,251.7H1365.7" stroke="#2B5FA0" stroke-width="3" fill="none"/>
<path d="M1276.2,292.6H1319M1276.2,299.1H1319" stroke="#C4861A" stroke-width="3" fill="none"/>
<path d="M1323.2,292.6H1365.7M1323.2,299.1H1365.7" stroke="#CC1F1F" stroke-width="3" fill="none"/>
<path d="M1276.2,346.8H1319M1276.2,353.9H1319" stroke="#CC1F1F" stroke-width="3" fill="none"/>
<path d="M1323.2,346.8H1365.7M1323.2,353.9H1365.7" stroke="#C4861A" stroke-width="3" fill="none"/>
<path d="M1276.2,400.9H1319M1276.2,407.9H1319" stroke="#CC1F1F" stroke-width="3" fill="none"/>
<path d="M1323.2,400.9H1365.7M1323.2,407.9H1365.7" stroke="#C4861A" stroke-width="3" fill="none"/>
<path d="M1276.2,455.1H1319M1276.2,461.9H1319" stroke="#C4861A" stroke-width="3" fill="none"/>
<path d="M1323.2,455.1H1365.7M1323.2,461.9H1365.7" stroke="#CC1F1F" stroke-width="3" fill="none"/>
<path d="M1276.2,502.3H1319M1276.2,508.9H1319M1276.2,515.7H1319" stroke="#2B5FA0" stroke-width="3" fill="none"/>
<path d="M1323.2,502.3H1365.7M1323.2,508.9H1365.7M1323.2,515.7H1365.7" stroke="#178462" stroke-width="3" fill="none"/>
<path d="M1615.2,210.6V548.7 M1884.3,210.6V548.7" stroke="#3D6DB3" stroke-width="3.2" fill="none"/>
<path d="M1615,246.1H1657.4M1615,300.2H1657.4M1615,348.3H1657.4M1615,402.4H1657.4M1615,456.5H1657.4M1615,510.7H1657.4M1844.5,246.1H1884M1844.5,300.5H1884M1844.5,456.5H1884M1844.5,510.7H1884M1884,348.6H1927M1884,402.7H1927" stroke="#3D6DB3" stroke-width="3" fill="none"/>
<text x="1666.17" y="260.50" font-family='"Liberation Sans", sans-serif' font-weight="normal" font-size="45.99" textLength="36.28" lengthAdjust="spacingAndGlyphs" fill="#178462" stroke="#178462" stroke-width="1.8" stroke-linejoin="round">G</text>
<text x="1668.01" y="314.40" font-family='"Liberation Sans", sans-serif' font-weight="normal" font-size="45.49" textLength="28.82" lengthAdjust="spacingAndGlyphs" fill="#C4861A" stroke="#C4861A" stroke-width="1.8" stroke-linejoin="round">A</text>
<text x="1666.30" y="366.90" font-family='"Liberation Sans", sans-serif' font-weight="normal" font-size="45.06" textLength="27.74" lengthAdjust="spacingAndGlyphs" fill="#CC1F1F" stroke="#CC1F1F" stroke-width="1.8" stroke-linejoin="round">T</text>
<text x="1666.30" y="420.10" font-family='"Liberation Sans", sans-serif' font-weight="normal" font-size="44.33" textLength="27.74" lengthAdjust="spacingAndGlyphs" fill="#CC1F1F" stroke="#CC1F1F" stroke-width="1.8" stroke-linejoin="round">T</text>
<text x="1668.01" y="472.90" font-family='"Liberation Sans", sans-serif' font-weight="normal" font-size="45.64" textLength="29.12" lengthAdjust="spacingAndGlyphs" fill="#C4861A" stroke="#C4861A" stroke-width="1.8" stroke-linejoin="round">A</text>
<text x="1666.89" y="526.60" font-family='"Liberation Sans", sans-serif' font-weight="normal" font-size="45.42" textLength="31.89" lengthAdjust="spacingAndGlyphs" fill="#2B5FA0" stroke="#2B5FA0" stroke-width="1.8" stroke-linejoin="round">C</text>
<text x="1801.62" y="260.50" font-family='"Liberation Sans", sans-serif' font-weight="normal" font-size="45.99" textLength="32.92" lengthAdjust="spacingAndGlyphs" fill="#2B5FA0" stroke="#2B5FA0" stroke-width="1.8" stroke-linejoin="round">C</text>
<text x="1801.39" y="314.40" font-family='"Liberation Sans", sans-serif' font-weight="normal" font-size="45.49" textLength="28.06" lengthAdjust="spacingAndGlyphs" fill="#CC1F1F" stroke="#CC1F1F" stroke-width="1.8" stroke-linejoin="round">T</text>
<text x="1801.17" y="474.60" font-family='"Liberation Sans", sans-serif' font-weight="normal" font-size="45.35" textLength="28.49" lengthAdjust="spacingAndGlyphs" fill="#CC1F1F" stroke="#CC1F1F" stroke-width="1.8" stroke-linejoin="round">T</text>
<text x="1801.78" y="526.60" font-family='"Liberation Sans", sans-serif' font-weight="normal" font-size="45.42" textLength="36.04" lengthAdjust="spacingAndGlyphs" fill="#178462" stroke="#178462" stroke-width="1.8" stroke-linejoin="round">G</text>
<text x="1937.61" y="361.30" font-family='"Liberation Sans", sans-serif' font-weight="normal" font-size="45.35" textLength="28.61" lengthAdjust="spacingAndGlyphs" fill="#C4861A" stroke="#C4861A" stroke-width="1.8" stroke-linejoin="round">A</text>
<text x="1937.61" y="414.40" font-family='"Liberation Sans", sans-serif' font-weight="normal" font-size="44.91" textLength="28.61" lengthAdjust="spacingAndGlyphs" fill="#C4861A" stroke="#C4861A" stroke-width="1.8" stroke-linejoin="round">A</text>
<path d="M1708.3,238.4H1750.3M1708.3,245.3H1750.3M1708.3,251.9H1750.3" stroke="#178462" stroke-width="3" fill="none"/>
<path d="M1755.5,238.4H1797.5M1755.5,245.3H1797.5M1755.5,251.9H1797.5" stroke="#2B5FA0" stroke-width="3" fill="none"/>
<path d="M1708.3,292.9H1750.3M1708.3,299.4H1750.3" stroke="#C4861A" stroke-width="3" fill="none"/>
<path d="M1755.5,292.9H1797.5M1755.5,299.4H1797.5" stroke="#CC1F1F" stroke-width="3" fill="none"/>
<path d="M1708.3,455H1750.3M1708.3,462.1H1750.3" stroke="#C4861A" stroke-width="3" fill="none"/>
<path d="M1755.5,455H1797.5M1755.5,462.1H1797.5" stroke="#CC1F1F" stroke-width="3" fill="none"/>
<path d="M1708.3,502.6H1750.3M1708.3,509.1H1750.3M1708.3,516H1750.3" stroke="#2B5FA0" stroke-width="3" fill="none"/>
<path d="M1755.5,502.6H1797.5M1755.5,509.1H1797.5M1755.5,516H1797.5" stroke="#178462" stroke-width="3" fill="none"/>
<clipPath id="dclip"><rect x="1700" y="300" width="60" height="160"/></clipPath><path clip-path="url(#dclip)" d="M1694.3,346.2 A32.6,32.6 0 0 1 1694.3,411.40000000000003 L1694.3,395.40000000000003 A16.6,16.6 0 0 0 1694.3,362.2Z" fill="#F6F6D2"/>
<path d="M1694.3,346.2 A32.6,32.6 0 0 1 1694.3,411.40000000000003 M1694.3,362.2 A16.6,16.6 0 0 1 1694.3,395.40000000000003" stroke="#CC1F1F" stroke-width="3.0" fill="none"/>
<path d="M1016.7,234.9 L1017.9,235.0 L1019.1,235.1 L1020.4,235.2 L1021.7,235.3 L1022.9,235.3 L1024.3,235.4 L1025.6,235.5 L1026.9,235.6 L1028.3,235.7 L1029.6,235.8 L1031.0,235.9 L1032.4,236.0 L1033.7,236.1 L1035.1,236.2 L1036.5,236.4 L1037.9,236.5 L1039.3,236.6 L1040.7,236.8 L1042.1,237.0 L1043.5,237.1 L1044.9,237.3 L1046.3,237.5 L1047.7,237.8 L1049.1,238.0 L1050.5,238.3 L1051.9,238.5 L1053.3,238.8 L1054.6,239.1 L1056.0,239.5 L1057.3,239.8 L1058.7,240.2 L1060.0,240.6 L1061.3,241.0 L1062.6,241.5 L1063.8,242.0 L1065.1,242.5 L1066.3,243.0 L1067.5,243.6 L1068.7,244.2 L1069.9,244.8 L1071.0,245.5 L1072.1,246.2 L1073.2,246.9 L1074.3,247.6 L1075.4,248.4 L1076.4,249.2 L1077.4,250.1 L1078.4,250.9 L1079.3,251.8 L1080.3,252.7 L1081.2,253.7 L1082.1,254.6 L1082.9,255.6 L1083.8,256.7 L1084.6,257.7 L1085.4,258.8 L1086.1,259.9 L1086.9,261.0 L1087.6,262.1 L1088.3,263.3 L1089.0,264.4 L1089.7,265.6 L1090.4,266.8 L1091.0,268.0 L1091.7,269.2 L1092.4,270.4 L1093.0,271.6 L1093.7,272.8 L1094.4,274.0 L1095.0,275.2 L1095.7,276.4 L1096.4,277.6 L1097.1,278.8 L1097.9,279.9 L1098.6,281.1 L1099.3,282.2 L1100.1,283.4 L1100.9,284.5 L1101.6,285.6 L1102.4,286.7 L1103.2,287.8 L1104.1,288.8 L1104.9,289.9 L1105.8,290.9 L1106.6,291.9 L1107.5,292.9 L1108.5,293.9 L1109.4,294.8 L1110.3,295.7 L1111.3,296.6 L1112.3,297.5 L1113.3,298.3 L1114.3,299.1 L1115.4,299.9 L1116.5,300.7 L1117.6,301.4 L1118.7,302.1 L1119.9,302.8 L1121.0,303.4 L1122.2,304.0 L1123.5,304.6 L1124.7,305.1 L1126.0,305.6 L1127.3,306.1 L1128.6,306.5 L1129.9,306.9 L1131.3,307.3 L1132.6,307.7 L1134.0,308.0 L1135.4,308.3 L1136.7,308.6 L1138.1,308.8 L1139.5,309.1 L1140.9,309.3 L1142.3,309.5 L1143.7,309.6 L1145.1,309.8 L1146.5,309.9 L1147.9,310.0" stroke="#800080" stroke-width="6.2" fill="none"/>
<path d="M1166.7,310.7 L1150.7,295.6 Q1156.6,310.2 1149.1,323.1Z" fill="#800080"/>
<path d="M1015.6,274.2 L1016.8,274.3 L1018.0,274.4 L1019.3,274.5 L1020.6,274.6 L1021.8,274.6 L1023.2,274.7 L1024.5,274.8 L1025.8,274.9 L1027.2,275.0 L1028.5,275.1 L1029.9,275.2 L1031.3,275.3 L1032.6,275.4 L1034.0,275.5 L1035.4,275.7 L1036.8,275.8 L1038.2,275.9 L1039.6,276.1 L1041.0,276.3 L1042.4,276.4 L1043.8,276.6 L1045.2,276.8 L1046.6,277.1 L1048.0,277.3 L1049.4,277.6 L1050.8,277.8 L1052.2,278.1 L1053.5,278.4 L1054.9,278.8 L1056.2,279.1 L1057.6,279.5 L1058.9,279.9 L1060.2,280.3 L1061.5,280.8 L1062.7,281.3 L1064.0,281.8 L1065.2,282.3 L1066.4,282.9 L1067.6,283.5 L1068.8,284.1 L1069.9,284.8 L1071.0,285.5 L1072.1,286.2 L1073.2,286.9 L1074.3,287.7 L1075.3,288.5 L1076.3,289.4 L1077.3,290.2 L1078.2,291.1 L1079.2,292.0 L1080.1,293.0 L1081.0,293.9 L1081.8,294.9 L1082.7,296.0 L1083.5,297.0 L1084.3,298.1 L1085.0,299.2 L1085.8,300.3 L1086.5,301.4 L1087.2,302.6 L1087.9,303.7 L1088.6,304.9 L1089.3,306.1 L1089.9,307.3 L1090.6,308.5 L1091.3,309.7 L1091.9,310.9 L1092.6,312.1 L1093.3,313.3 L1093.9,314.5 L1094.6,315.7 L1095.3,316.9 L1096.0,318.1 L1096.8,319.2 L1097.5,320.4 L1098.2,321.5 L1099.0,322.7 L1099.8,323.8 L1100.5,324.9 L1101.3,326.0 L1102.1,327.1 L1103.0,328.1 L1103.8,329.2 L1104.7,330.2 L1105.5,331.2 L1106.4,332.2 L1107.4,333.2 L1108.3,334.1 L1109.2,335.0 L1110.2,335.9 L1111.2,336.8 L1112.2,337.6 L1113.2,338.4 L1114.3,339.2 L1115.4,340.0 L1116.5,340.7 L1117.6,341.4 L1118.8,342.1 L1119.9,342.7 L1121.1,343.3 L1122.4,343.9 L1123.6,344.4 L1124.9,344.9 L1126.2,345.4 L1127.5,345.8 L1128.8,346.2 L1130.2,346.6 L1131.5,347.0 L1132.9,347.3 L1134.3,347.6 L1135.6,347.9 L1137.0,348.1 L1138.4,348.4 L1139.8,348.6 L1141.2,348.8 L1142.6,348.9 L1144.0,349.1 L1145.4,349.2 L1146.8,349.3" stroke="#800080" stroke-width="6.2" fill="none"/>
<path d="M1165.6,350.0 L1149.6,334.9 Q1155.5,349.5 1148.0,362.4Z" fill="#800080"/>
<path d="M1021.4,313.3 L1022.6,313.4 L1023.8,313.5 L1025.1,313.6 L1026.4,313.7 L1027.6,313.7 L1029.0,313.8 L1030.3,313.9 L1031.6,314.0 L1033.0,314.1 L1034.3,314.2 L1035.7,314.3 L1037.1,314.4 L1038.4,314.5 L1039.8,314.6 L1041.2,314.8 L1042.6,314.9 L1044.0,315.0 L1045.4,315.2 L1046.8,315.4 L1048.2,315.5 L1049.6,315.7 L1051.0,315.9 L1052.4,316.2 L1053.8,316.4 L1055.2,316.7 L1056.6,316.9 L1058.0,317.2 L1059.3,317.5 L1060.7,317.9 L1062.0,318.2 L1063.4,318.6 L1064.7,319.0 L1066.0,319.4 L1067.3,319.9 L1068.5,320.4 L1069.8,320.9 L1071.0,321.4 L1072.2,322.0 L1073.4,322.6 L1074.6,323.2 L1075.7,323.9 L1076.8,324.6 L1077.9,325.3 L1079.0,326.0 L1080.1,326.8 L1081.1,327.6 L1082.1,328.5 L1083.1,329.3 L1084.0,330.2 L1085.0,331.1 L1085.9,332.1 L1086.8,333.0 L1087.6,334.0 L1088.5,335.1 L1089.3,336.1 L1090.1,337.2 L1090.8,338.3 L1091.6,339.4 L1092.3,340.5 L1093.0,341.7 L1093.7,342.8 L1094.4,344.0 L1095.1,345.2 L1095.7,346.4 L1096.4,347.6 L1097.1,348.8 L1097.7,350.0 L1098.4,351.2 L1099.1,352.4 L1099.7,353.6 L1100.4,354.8 L1101.1,356.0 L1101.8,357.2 L1102.6,358.3 L1103.3,359.5 L1104.0,360.6 L1104.8,361.8 L1105.6,362.9 L1106.3,364.0 L1107.1,365.1 L1107.9,366.2 L1108.8,367.2 L1109.6,368.3 L1110.5,369.3 L1111.3,370.3 L1112.2,371.3 L1113.2,372.3 L1114.1,373.2 L1115.0,374.1 L1116.0,375.0 L1117.0,375.9 L1118.0,376.7 L1119.0,377.5 L1120.1,378.3 L1121.2,379.1 L1122.3,379.8 L1123.4,380.5 L1124.6,381.2 L1125.7,381.8 L1126.9,382.4 L1128.2,383.0 L1129.4,383.5 L1130.7,384.0 L1132.0,384.5 L1133.3,384.9 L1134.6,385.3 L1136.0,385.7 L1137.3,386.1 L1138.7,386.4 L1140.1,386.7 L1141.4,387.0 L1142.8,387.2 L1144.2,387.5 L1145.6,387.7 L1147.0,387.9 L1148.4,388.0 L1149.8,388.2 L1151.2,388.3 L1152.6,388.4" stroke="#800080" stroke-width="6.2" fill="none"/>
<path d="M1171.4,389.1 L1155.4,374.0 Q1161.3,388.6 1153.8,401.5Z" fill="#800080"/>
<path d="M1021.4,352.6 L1022.6,352.7 L1023.8,352.8 L1025.1,352.9 L1026.4,353.0 L1027.6,353.0 L1029.0,353.1 L1030.3,353.2 L1031.6,353.3 L1033.0,353.4 L1034.3,353.5 L1035.7,353.6 L1037.1,353.7 L1038.4,353.8 L1039.8,353.9 L1041.2,354.1 L1042.6,354.2 L1044.0,354.3 L1045.4,354.5 L1046.8,354.7 L1048.2,354.8 L1049.6,355.0 L1051.0,355.2 L1052.4,355.5 L1053.8,355.7 L1055.2,356.0 L1056.6,356.2 L1058.0,356.5 L1059.3,356.8 L1060.7,357.2 L1062.0,357.5 L1063.4,357.9 L1064.7,358.3 L1066.0,358.7 L1067.3,359.2 L1068.5,359.7 L1069.8,360.2 L1071.0,360.7 L1072.2,361.3 L1073.4,361.9 L1074.6,362.5 L1075.7,363.2 L1076.8,363.9 L1077.9,364.6 L1079.0,365.3 L1080.1,366.1 L1081.1,366.9 L1082.1,367.8 L1083.1,368.6 L1084.0,369.5 L1085.0,370.4 L1085.9,371.4 L1086.8,372.3 L1087.6,373.3 L1088.5,374.4 L1089.3,375.4 L1090.1,376.5 L1090.8,377.6 L1091.6,378.7 L1092.3,379.8 L1093.0,381.0 L1093.7,382.1 L1094.4,383.3 L1095.1,384.5 L1095.7,385.7 L1096.4,386.9 L1097.1,388.1 L1097.7,389.3 L1098.4,390.5 L1099.1,391.7 L1099.7,392.9 L1100.4,394.1 L1101.1,395.3 L1101.8,396.5 L1102.6,397.6 L1103.3,398.8 L1104.0,399.9 L1104.8,401.1 L1105.6,402.2 L1106.3,403.3 L1107.1,404.4 L1107.9,405.5 L1108.8,406.5 L1109.6,407.6 L1110.5,408.6 L1111.3,409.6 L1112.2,410.6 L1113.2,411.6 L1114.1,412.5 L1115.0,413.4 L1116.0,414.3 L1117.0,415.2 L1118.0,416.0 L1119.0,416.8 L1120.1,417.6 L1121.2,418.4 L1122.3,419.1 L1123.4,419.8 L1124.6,420.5 L1125.7,421.1 L1126.9,421.7 L1128.2,422.3 L1129.4,422.8 L1130.7,423.3 L1132.0,423.8 L1133.3,424.2 L1134.6,424.6 L1136.0,425.0 L1137.3,425.4 L1138.7,425.7 L1140.1,426.0 L1141.4,426.3 L1142.8,426.5 L1144.2,426.8 L1145.6,427.0 L1147.0,427.2 L1148.4,427.3 L1149.8,427.5 L1151.2,427.6 L1152.6,427.7" stroke="#800080" stroke-width="6.2" fill="none"/>
<path d="M1171.4,428.4 L1155.4,413.3 Q1161.3,427.9 1153.8,440.8Z" fill="#800080"/>
<path d="M1020.1,391.7 L1021.3,391.8 L1022.5,391.9 L1023.8,392.0 L1025.1,392.1 L1026.3,392.1 L1027.7,392.2 L1029.0,392.3 L1030.3,392.4 L1031.7,392.5 L1033.0,392.6 L1034.4,392.7 L1035.8,392.8 L1037.1,392.9 L1038.5,393.0 L1039.9,393.2 L1041.3,393.3 L1042.7,393.4 L1044.1,393.6 L1045.5,393.8 L1046.9,393.9 L1048.3,394.1 L1049.7,394.3 L1051.1,394.6 L1052.5,394.8 L1053.9,395.1 L1055.3,395.3 L1056.7,395.6 L1058.0,395.9 L1059.4,396.3 L1060.7,396.6 L1062.1,397.0 L1063.4,397.4 L1064.7,397.8 L1066.0,398.3 L1067.2,398.8 L1068.5,399.3 L1069.7,399.8 L1070.9,400.4 L1072.1,401.0 L1073.3,401.6 L1074.4,402.3 L1075.5,403.0 L1076.6,403.7 L1077.7,404.4 L1078.8,405.2 L1079.8,406.0 L1080.8,406.9 L1081.8,407.7 L1082.7,408.6 L1083.7,409.5 L1084.6,410.5 L1085.5,411.4 L1086.3,412.4 L1087.2,413.5 L1088.0,414.5 L1088.8,415.6 L1089.5,416.7 L1090.3,417.8 L1091.0,418.9 L1091.7,420.1 L1092.4,421.2 L1093.1,422.4 L1093.8,423.6 L1094.4,424.8 L1095.1,426.0 L1095.8,427.2 L1096.4,428.4 L1097.1,429.6 L1097.8,430.8 L1098.4,432.0 L1099.1,433.2 L1099.8,434.4 L1100.5,435.6 L1101.3,436.7 L1102.0,437.9 L1102.7,439.0 L1103.5,440.2 L1104.3,441.3 L1105.0,442.4 L1105.8,443.5 L1106.6,444.6 L1107.5,445.6 L1108.3,446.7 L1109.2,447.7 L1110.0,448.7 L1110.9,449.7 L1111.9,450.7 L1112.8,451.6 L1113.7,452.5 L1114.7,453.4 L1115.7,454.3 L1116.7,455.1 L1117.7,455.9 L1118.8,456.7 L1119.9,457.5 L1121.0,458.2 L1122.1,458.9 L1123.3,459.6 L1124.4,460.2 L1125.6,460.8 L1126.9,461.4 L1128.1,461.9 L1129.4,462.4 L1130.7,462.9 L1132.0,463.3 L1133.3,463.7 L1134.7,464.1 L1136.0,464.5 L1137.4,464.8 L1138.8,465.1 L1140.1,465.4 L1141.5,465.6 L1142.9,465.9 L1144.3,466.1 L1145.7,466.3 L1147.1,466.4 L1148.5,466.6 L1149.9,466.7 L1151.3,466.8" stroke="#800080" stroke-width="6.2" fill="none"/>
<path d="M1170.1,467.5 L1154.1,452.4 Q1160.0,467.0 1152.5,479.9Z" fill="#800080"/>
<text x="905.70" y="308.45" font-family='"Liberation Sans", sans-serif' font-weight="normal" font-size="41.40" letter-spacing="1.016" fill="#800080" stroke="#800080" stroke-width="1.9" stroke-linejoin="round">UV-C</text>
<text x="896.52" y="344.10" font-family='"Liberation Sans", sans-serif' font-weight="normal" font-size="29.42" textLength="121.10" lengthAdjust="spacingAndGlyphs" fill="#800080" stroke="#800080" stroke-width="0.7">radiation</text>
<path d="M1474,353.7 H1570 V333 L1601,379.3 L1570,425.5 V405 H1474 Z" fill="#800080" stroke="#C0800F" stroke-width="5.2" stroke-linejoin="miter" stroke-miterlimit="10"/>
<text x="482.77" y="666.00" font-family='"Liberation Serif", serif' font-weight="bold" font-size="53.31" textLength="44.95" lengthAdjust="spacingAndGlyphs" fill="#000" >a)</text>
<text x="1491.55" y="666.60" font-family='"Liberation Serif", serif' font-weight="bold" font-size="54.18" textLength="47.87" lengthAdjust="spacingAndGlyphs" fill="#000" >b)</text></svg>
</body></html>
